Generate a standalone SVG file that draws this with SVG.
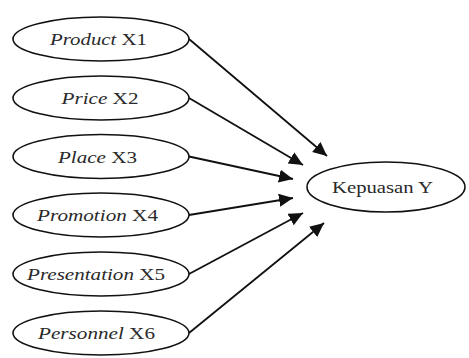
<svg xmlns="http://www.w3.org/2000/svg" width="469" height="358" viewBox="0 0 469 358">
<style>
.n{fill:#fff;stroke:#111;stroke-width:1.6}
.t{font-family:"Liberation Serif","Times New Roman",serif;font-size:17px;fill:#2a2a2a;text-anchor:middle}
.i{font-style:italic}
.c line{stroke:#111;stroke-width:1.8}
</style>
<defs>
<marker id="ah" markerUnits="userSpaceOnUse" markerWidth="16" markerHeight="14" refX="14" refY="6.5" orient="auto">
<path d="M0,0 L14,6.5 L0,13 Z" fill="#111"/>
</marker>
</defs>
<rect width="469" height="358" fill="#fff"/>
<g class="c">
<line x1="189" y1="39" x2="327" y2="156" marker-end="url(#ah)"/>
<line x1="189" y1="98" x2="303" y2="165" marker-end="url(#ah)"/>
<line x1="189" y1="156.5" x2="293" y2="179" marker-end="url(#ah)"/>
<line x1="189" y1="215" x2="293" y2="198" marker-end="url(#ah)"/>
<line x1="189" y1="274" x2="303" y2="213" marker-end="url(#ah)"/>
<line x1="189" y1="333" x2="324" y2="223" marker-end="url(#ah)"/>
</g>
<g id="x1"><ellipse class="n" cx="101" cy="39" rx="88" ry="22"/><text class="t" x="98.5" y="45" textLength="97" lengthAdjust="spacingAndGlyphs"><tspan class="i">Product</tspan> X1</text></g>
<g id="x2"><ellipse class="n" cx="101" cy="98" rx="88" ry="22"/><text class="t" x="100" y="104" textLength="77" lengthAdjust="spacingAndGlyphs"><tspan class="i">Price</tspan> X2</text></g>
<g id="x3"><ellipse class="n" cx="101" cy="156.5" rx="88" ry="22"/><text class="t" x="97.5" y="162.5" textLength="79" lengthAdjust="spacingAndGlyphs"><tspan class="i">Place</tspan> X3</text></g>
<g id="x4"><ellipse class="n" cx="101" cy="215" rx="88" ry="22"/><text class="t" x="97.5" y="221" textLength="121" lengthAdjust="spacingAndGlyphs"><tspan class="i">Promotion</tspan> X4</text></g>
<g id="x5"><ellipse class="n" cx="101" cy="274" rx="88" ry="22"/><text class="t" x="96" y="280" textLength="138" lengthAdjust="spacingAndGlyphs"><tspan class="i">Presentation</tspan> X5</text></g>
<g id="x6"><ellipse class="n" cx="101" cy="333" rx="88" ry="22"/><text class="t" x="96.5" y="339" textLength="117" lengthAdjust="spacingAndGlyphs"><tspan class="i">Personnel</tspan> X6</text></g>
<g id="y"><ellipse class="n" cx="386" cy="187" rx="79" ry="25"/><text class="t" x="382.5" y="193" textLength="101" lengthAdjust="spacingAndGlyphs">Kepuasan Y</text></g>
</svg>
